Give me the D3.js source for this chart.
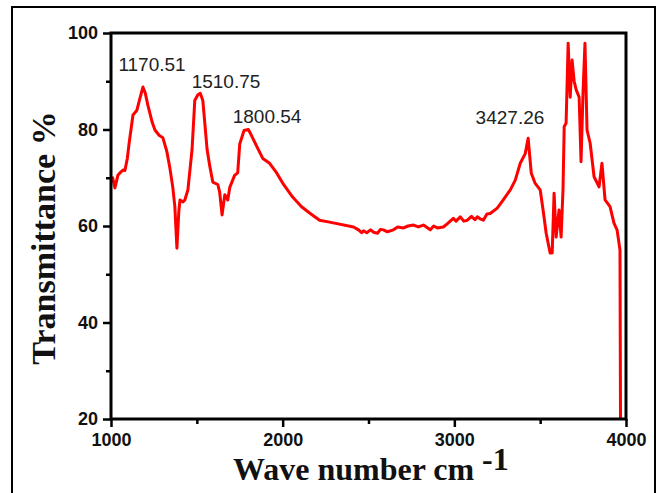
<!DOCTYPE html>
<html>
<head>
<meta charset="utf-8">
<script src="https://cdn.jsdelivr.net/npm/d3@7"></script>
<style>
  html, body { margin: 0; padding: 0; background: #fff; }
  svg { display: block; }
</style>
</head>
<body>
<svg id="chart" width="662" height="493"></svg>
<script>
// ---- Data ----
const wavenumbers = [1000,1010,1023,1040,1052,1070,1081,1095,1105,1128,1151,1165,1186,1200,1215,1240,1256,1280,1302,1325,1343,1360,1372,1384,1395,1402,1420,1430,1448,1472,1488,1506,1520,1535,1560,1576,1593,1622,1633,1647,1663,1680,1692,1720,1738,1750,1775,1800,1815,1849,1884,1924,1965,2000,2058,2110,2157,2215,2273,2413,2442,2460,2471,2490,2512,2530,2552,2570,2587,2610,2645,2670,2704,2730,2762,2790,2820,2845,2860,2880,2901,2936,2960,2994,3010,3035,3055,3076,3100,3120,3134,3150,3169,3190,3209,3250,3285,3326,3355,3384,3413,3430,3448,3470,3500,3517,3535,3558,3570,3581,3593,3610,3622,3633,3640,3651,3663,3675,3686,3698,3710,3727,3738,3750,3761,3773,3791,3814,3843,3860,3878,3907,3930,3948,3965,3968];
const transmittance = [69,70,67.9,70.5,71,71.6,71.5,74,77,83,84,86,88.8,87.5,85,81.5,79.9,78.8,78.3,75.5,72,68,64,55.4,63,65.4,65,65.4,67.5,75.8,86,87.2,87.5,86,75.8,72.3,69.1,68.6,67,62.3,66.5,65.4,68,70.5,71,77,79.8,80,79,76.5,74,73,71,68.9,66,64,62.7,61.2,60.8,59.8,59.2,58.6,59,58.6,59.2,58.7,58.5,59.3,59.2,58.8,59.2,59.8,59.6,60,60.2,59.8,60.2,59.6,59.2,60,59.6,59.8,60.5,61.6,61,61.9,61,61.2,62,61.3,61.9,61.5,61.2,62.5,62.6,63.7,65.4,67.5,69.5,73,75,78.2,71,68.9,67.5,63.3,58.5,54.4,54.4,66.8,57.7,63.3,57.7,67.5,80.6,81.3,97.9,86.7,94.4,90,88.2,86.7,73.3,88,97.9,79.9,77.2,70.2,68.1,73,65.4,64,60.6,59.2,55,20];

const peakLabels = ["1170.51", "1510.75", "1800.54", "3427.26"];
const peakLabelX = [1239, 1670, 1909, 3324];
const peakLabelY = [92.1, 88.6, 81.3, 81.1];

const xMajorTicks = [1000, 2000, 3000, 4000];
const xMinorTicks = [1500, 2500, 3500];
const yMajorTicks = [20, 40, 60, 80, 100];
const yMinorTicks = [30, 50, 70, 90];

const xTitle = "Wave number cm";
const xTitleSup = "-1";
const yTitle = "Transmittance %";

// ---- Layout ----
const svg = d3.select("#chart");
const pLeft = 111, pRight = 626, pTop = 33, pBottom = 419;

const x = d3.scaleLinear().domain([1000, 4000]).range([pLeft, pRight]);
const y = d3.scaleLinear().domain([20, 100]).range([pBottom, pTop]);

const sansFont = "'Liberation Sans', Arial, Helvetica, sans-serif";
const serifFont = "'Liberation Serif', 'Times New Roman', serif";

// outer frame
svg.append("rect")
  .attr("x", 12).attr("y", 7)
  .attr("width", 643).attr("height", 500)
  .attr("fill", "#fff")
  .attr("stroke", "#000").attr("stroke-width", 2);

// spectrum line (clipped to plot)
svg.append("clipPath").attr("id", "plotclip")
  .append("rect").attr("x", pLeft).attr("y", pTop - 2)
  .attr("width", pRight - pLeft).attr("height", pBottom - pTop + 2);

const pts = wavenumbers.map((w, i) => [w, transmittance[i]]);
svg.append("path")
  .datum(pts)
  .attr("clip-path", "url(#plotclip)")
  .attr("fill", "none")
  .attr("stroke", "#ff0000")
  .attr("stroke-width", 3)
  .attr("stroke-linejoin", "round")
  .attr("d", d3.line().x(d => x(d[0])).y(d => y(d[1])));

// axes
function styleAxis(g) {
  g.selectAll(".domain").remove();
  g.selectAll(".tick line").attr("stroke", "#000").attr("stroke-width", 2.5);
  g.selectAll(".tick text")
    .attr("fill", "#111")
    .style("font-family", sansFont)
    .style("font-weight", "bold")
    .style("font-size", "18px");
}

svg.append("g")
  .attr("transform", `translate(0,${pBottom})`)
  .call(d3.axisBottom(x).tickValues(xMajorTicks).tickFormat(d3.format("d")).tickSize(8).tickPadding(6))
  .call(styleAxis);
svg.append("g")
  .attr("transform", `translate(0,${pBottom})`)
  .call(d3.axisBottom(x).tickValues(xMinorTicks).tickFormat("").tickSize(5))
  .call(styleAxis);

svg.append("g")
  .attr("transform", `translate(${pLeft},0)`)
  .call(d3.axisLeft(y).tickValues(yMajorTicks).tickFormat(d3.format("d")).tickSize(8).tickPadding(5))
  .call(styleAxis);
svg.append("g")
  .attr("transform", `translate(${pLeft},0)`)
  .call(d3.axisLeft(y).tickValues(yMinorTicks).tickFormat("").tickSize(5))
  .call(styleAxis);

// plot frame
svg.append("rect")
  .attr("x", pLeft).attr("y", pTop)
  .attr("width", pRight - pLeft).attr("height", pBottom - pTop)
  .attr("fill", "none")
  .attr("stroke", "#000").attr("stroke-width", 3);

// peak labels
svg.append("g").selectAll("text")
  .data(peakLabels)
  .join("text")
  .attr("x", (d, i) => x(peakLabelX[i]))
  .attr("y", (d, i) => y(peakLabelY[i]))
  .attr("text-anchor", "middle")
  .attr("fill", "#222")
  .style("font-family", sansFont)
  .style("font-size", "19px")
  .text(d => d);

// axis titles
const xt = svg.append("text")
  .attr("x", 233).attr("y", 480)
  .attr("fill", "#111")
  .style("font-family", serifFont)
  .style("font-weight", "bold")
  .style("font-size", "32px");
xt.append("tspan").text(xTitle);
xt.append("tspan").attr("x", 482).attr("y", 470).text(xTitleSup);

svg.append("text")
  .attr("transform", `translate(55,238) rotate(-90)`)
  .attr("text-anchor", "middle")
  .attr("fill", "#111")
  .style("font-family", serifFont)
  .style("font-weight", "bold")
  .style("font-size", "34px")
  .text(yTitle);
</script>
</body>
</html>
